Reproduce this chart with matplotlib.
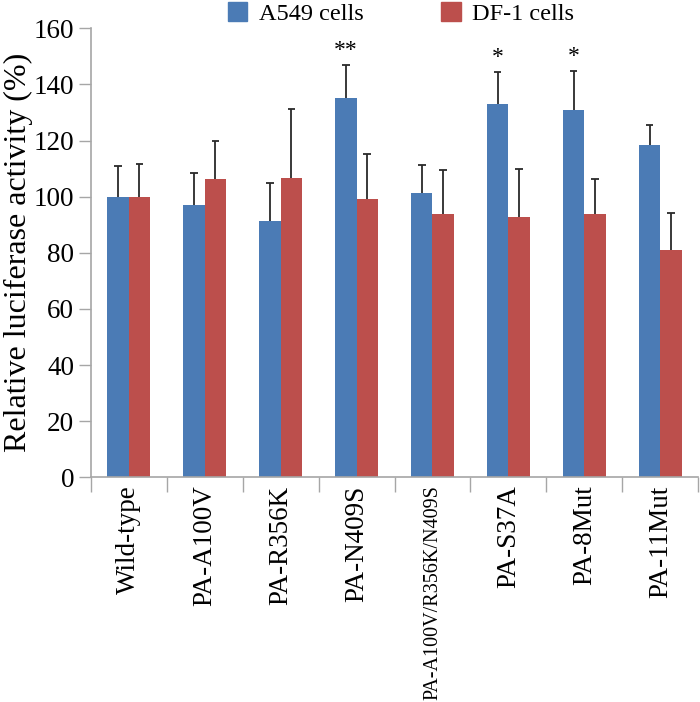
import numpy as np
import matplotlib
matplotlib.use('Agg')
import matplotlib.pyplot as plt
from matplotlib.patches import Patch

plt.rcParams['font.family'] = ['Liberation Serif', 'DejaVu Serif']

# data
groups = ['Wild-type', 'PA-A100V', 'PA-R356K', 'PA-N409S',
          'PA-A100V/R356K/N409S', 'PA-S37A', 'PA-8Mut', 'PA-11Mut']
a549 = [100, 96.9, 91.2, 135.1, 101.4, 132.9, 130.9, 118.3]
a549_err = [10.9, 11.7, 13.8, 11.9, 9.8, 11.6, 13.9, 7.3]
df1 = [100, 106.2, 106.7, 99.3, 93.8, 92.9, 93.8, 81.0]
df1_err = [11.8, 13.8, 24.4, 15.8, 15.7, 16.9, 12.5, 13.3]
stars = ['', '', '', '**', '', '*', '*', '']

blue = '#4b7bb5'
red = '#bc4f4c'
grey = '#a6a6a6'
ecol = '#2a2a2a'

fig = plt.figure(figsize=(7, 7.02), dpi=100)
ax = fig.add_axes([0.1296, 0.3201, 0.868, 0.6396])

x = np.arange(len(groups))
w = 0.283
cap = 0.05

# bars plus one-sided (upward) error bars
for xs, vals, errs, col in [(x - w / 2, a549, a549_err, blue),
                            (x + w / 2, df1, df1_err, red)]:
    ax.bar(xs, vals, w, color=col, zorder=2)
    tops = np.array(vals) + np.array(errs)
    ax.vlines(xs, vals, tops, color=ecol, lw=1.3, zorder=3)
    ax.hlines(tops, xs - cap, xs + cap, color=ecol, lw=1.3, zorder=3)

# significance marks
for i, s in enumerate(stars):
    if s:
        ax.text(x[i] - w / 2, a549[i] + a549_err[i] + 1.5, s, ha='center',
                va='bottom', fontsize=17)

ax.set_xlim(-0.5, len(groups) - 0.5)
ax.set_ylim(0, 160)
ax.set_yticks(np.arange(0, 161, 20))
ax.tick_params(axis='y', labelsize=19.5, length=9, width=1, color=grey, pad=3)

# ticks between groups, labels at centres
ax.set_xticks(np.arange(-0.5, len(groups), 1.0))
ax.set_xticklabels([])
ax.set_xticks(x, minor=True)
ax.set_xticklabels(groups, minor=True, rotation=90, fontsize=19.5)
ax.tick_params(axis='x', which='major', length=11, width=1, color=grey)
ax.tick_params(axis='x', which='minor', length=0, pad=6)
for lab in ax.get_xticklabels(minor=True):
    if lab.get_text() == 'PA-A100V/R356K/N409S':
        lab.set_fontsize(14.5)

for sp in ['top', 'right']:
    ax.spines[sp].set_visible(False)
for sp in ['left', 'bottom']:
    ax.spines[sp].set_color(grey)
    ax.spines[sp].set_linewidth(1.2)

ax.set_ylabel('Relative luciferase activity (%)', fontsize=23, labelpad=0)

handles = [Patch(color=blue), Patch(color=red)]
fig.legend(handles, ['A549 cells', 'DF-1 cells'], loc='center',
           bbox_to_anchor=(0.573, 0.981), ncol=2, frameon=False, fontsize=17.5,
           handlelength=0.8, handleheight=0.8, handletextpad=0.47,
           columnspacing=3.2, borderpad=0)

fig.savefig('out.png', dpi=100)
